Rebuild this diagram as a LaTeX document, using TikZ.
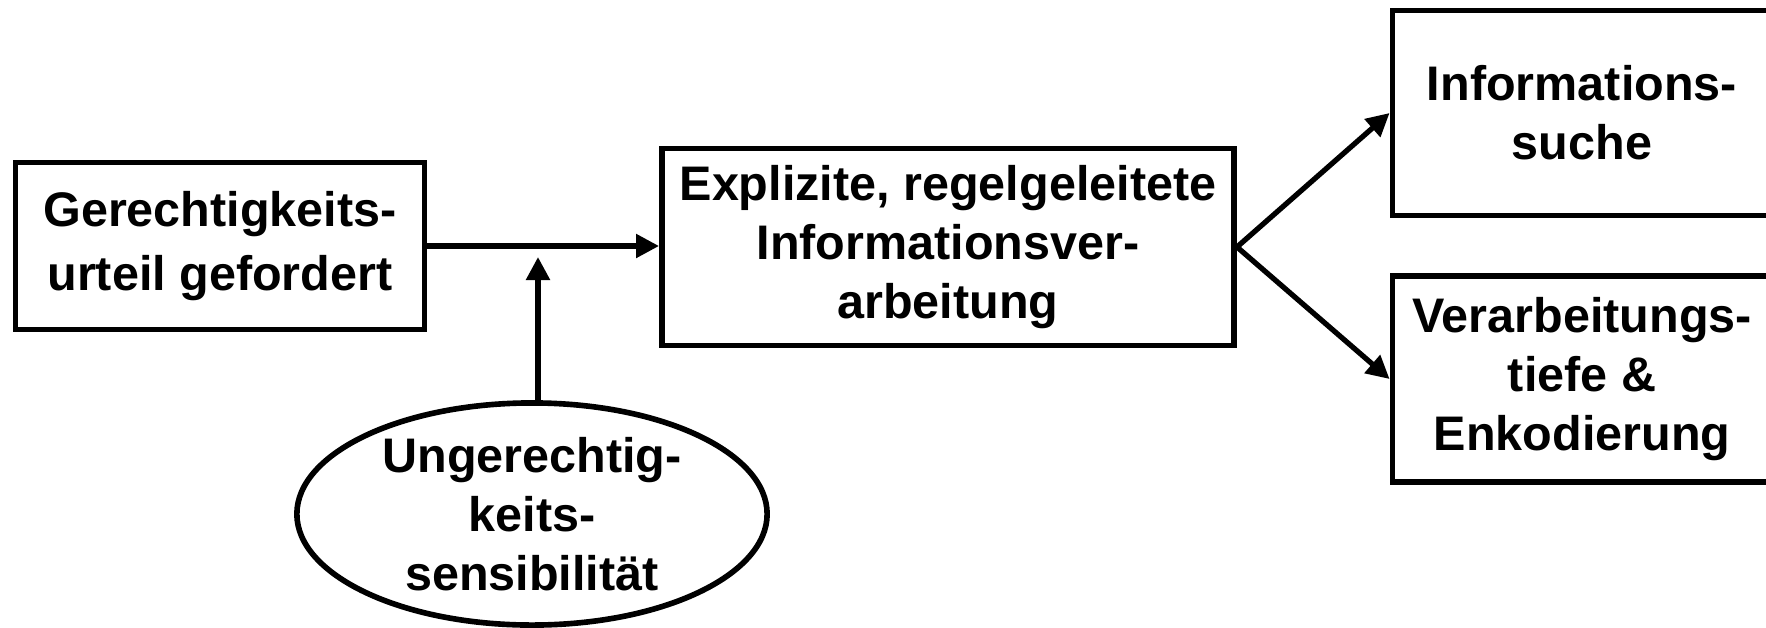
\documentclass[tikz,border=0pt]{standalone}
\usepackage{fontspec}
\setmainfont{Liberation Sans}
\usetikzlibrary{arrows.meta,shapes.geometric}
\begin{document}
\begin{tikzpicture}[x=0.01cm,y=-0.01cm,
  box/.style={draw,line width=1.6pt,align=center,font=\fontsize{13.8}{16.8}\selectfont\bfseries,inner sep=0pt},
  oval/.style={draw,ellipse,line width=1.6pt,align=center,font=\fontsize{13.8}{16.8}\selectfont\bfseries,inner sep=0pt},
  arr/.style={line width=1.5pt,-{Triangle[length=2.3mm,width=2.3mm]}}]
\useasboundingbox (0,0) rectangle (1766,627);
\node[box,minimum width=40.9mm,minimum height=16.7mm,font=\fontsize{13.8}{18.2}\selectfont\bfseries] (g) at (220,246) {Gerechtigkeits-\\urteil gefordert};
\node[box,minimum width=57.2mm,minimum height=19.7mm] (e) at (948,247) {Explizite, regelgeleitete\\Informationsver-\\arbeitung};
\node[box,minimum width=37.9mm,minimum height=20.5mm] (i) at (1582,113) {Informations-\\suche};
\node[box,minimum width=37.9mm,minimum height=20.6mm] (v) at (1582,379) {Verarbeitungs-\\tiefe \&\\Enkodierung};
\node[oval,minimum width=47mm,minimum height=22.2mm] (u) at (532,514) {Ungerechtig-\\keits-\\sensibilit\"at};
\coordinate (m) at (538,257);
\coordinate (ut) at (538,404);
\draw[arr] (g.east) -- (e.west |- g.east);
\draw[arr] (ut) -- (m);
\draw[arr] (e.east) -- (i.west);
\draw[arr] (e.east) -- (v.west);
\end{tikzpicture}
\end{document}
